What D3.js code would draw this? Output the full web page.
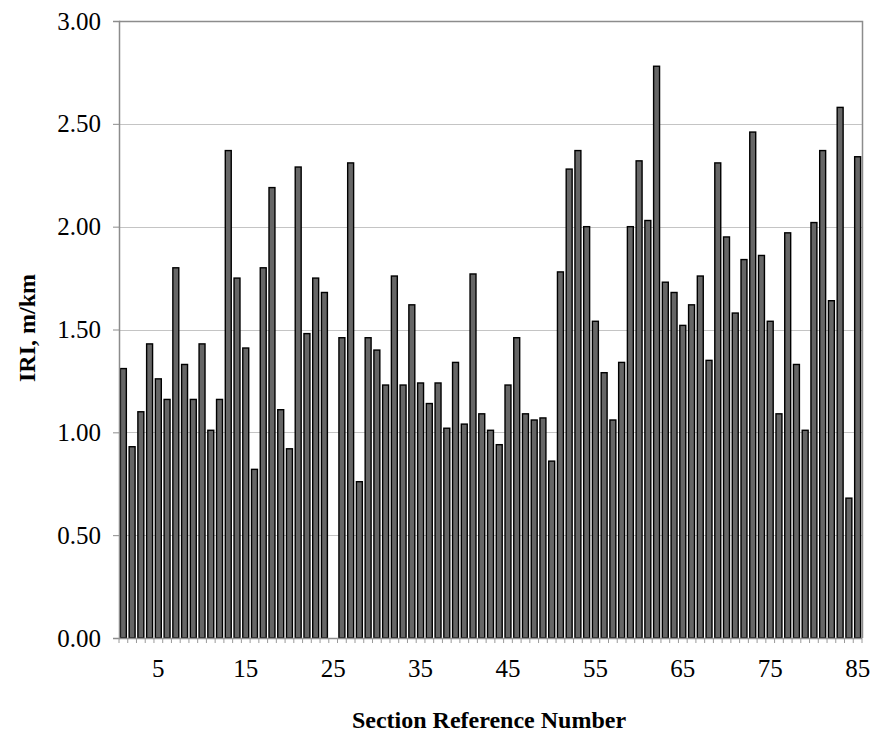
<!DOCTYPE html>
<html lang="en">
<head>
<meta charset="UTF-8">
<title>IRI by section</title>
<script src="https://cdn.jsdelivr.net/npm/d3@7/dist/d3.min.js"></script>
<style>
  body { margin: 0; background: #fff; }
  text { font-family: "Liberation Serif", "Times New Roman", serif; fill: #000; }
</style>
</head>
<body>
<div id="chart"></div>
<script>

// section numbers 1..85, section 25 has no value
var sections = d3.range(1, 86);
var iri = [
  1.31, 0.93, 1.10, 1.43, 1.26, 1.16, 1.80, 1.33, 1.16, 1.43,
  1.01, 1.16, 2.37, 1.75, 1.41, 0.82, 1.80, 2.19, 1.11, 0.92,
  2.29, 1.48, 1.75, 1.68, null, 1.46, 2.31, 0.76, 1.46, 1.40,
  1.23, 1.76, 1.23, 1.62, 1.24, 1.14, 1.24, 1.02, 1.34, 1.04,
  1.77, 1.09, 1.01, 0.94, 1.23, 1.46, 1.09, 1.06, 1.07, 0.86,
  1.78, 2.28, 2.37, 2.00, 1.54, 1.29, 1.06, 1.34, 2.00, 2.32,
  2.03, 2.78, 1.73, 1.68, 1.52, 1.62, 1.76, 1.35, 2.31, 1.95,
  1.58, 1.84, 2.46, 1.86, 1.54, 1.09, 1.97, 1.33, 1.01, 2.02,
  2.37, 1.64, 2.58, 0.68, 2.34
];
var xTickLabels = [5, 15, 25, 35, 45, 55, 65, 75, 85];
var yTicks = [0, 0.5, 1.0, 1.5, 2.0, 2.5, 3.0];

var w = 873, h = 734;
var plotL = 119, plotR = 862, plotT = 21, plotB = 638;

var svg = d3.select("#chart").append("svg")
    .attr("width", w)
    .attr("height", h);

var x = d3.scaleBand()
    .domain(sections)
    .range([plotL, plotR])
    .paddingInner(0.32)
    .paddingOuter(0.16);

var y = d3.scaleLinear()
    .domain([0, 3])
    .range([plotB, plotT]);

// gridlines
svg.append("g")
    .selectAll("line")
    .data(yTicks.filter(function(d) { return d > 0 && d < 3; }))
    .enter().append("line")
    .attr("x1", plotL).attr("x2", plotR)
    .attr("y1", function(d) { return Math.round(y(d)) + 0.5; })
    .attr("y2", function(d) { return Math.round(y(d)) + 0.5; })
    .attr("stroke", "#c4c4c4")
    .attr("stroke-width", 1);

// plot frame (top, right)
svg.append("path")
    .attr("d", "M" + plotL + "," + (plotT + 0.5) + "H" + (plotR + 0.5) + "V" + plotB)
    .attr("fill", "none")
    .attr("stroke", "#8c8c8c")
    .attr("stroke-width", 1.5);

// bars
var data = sections.map(function(s, i) { return { s: s, v: iri[i] }; })
    .filter(function(d) { return d.v != null; });

svg.append("g")
    .selectAll("rect")
    .data(data)
    .enter().append("rect")
    .attr("x", function(d) { return x(d.s); })
    .attr("y", function(d) { return y(d.v); })
    .attr("width", x.bandwidth())
    .attr("height", function(d) { return y(0) - y(d.v); })
    .attr("fill", "#666")
    .attr("stroke", "#000")
    .attr("stroke-width", 1.4);

// y axis
var yAxis = svg.append("g")
    .attr("transform", "translate(" + plotL + ",0)")
    .call(d3.axisLeft(y).tickValues(yTicks).tickFormat(d3.format(".2f")).tickSize(6).tickPadding(12));
yAxis.select(".domain").attr("stroke", "#8c8c8c").attr("stroke-width", 1.5);
yAxis.selectAll(".tick line").attr("stroke", "#8c8c8c");
yAxis.selectAll(".tick text")
    .attr("font-family", "Liberation Serif, serif")
    .attr("font-size", 25)
    .attr("fill", "#000");

// x axis: tick marks between sections, labels every 10
var bounds = d3.range(0, sections.length + 1).map(function(i) { return plotL + i * (plotR - plotL) / sections.length; });
svg.append("line")
    .attr("x1", plotL).attr("x2", plotR)
    .attr("y1", plotB + 0.5).attr("y2", plotB + 0.5)
    .attr("stroke", "#8c8c8c")
    .attr("stroke-width", 1.5);
svg.append("g")
    .selectAll("line")
    .data(bounds)
    .enter().append("line")
    .attr("x1", function(d) { return d; }).attr("x2", function(d) { return d; })
    .attr("y1", plotB).attr("y2", plotB + 5)
    .attr("stroke", "#9a9a9a")
    .attr("stroke-width", 1);

svg.append("g")
    .selectAll("text")
    .data(xTickLabels)
    .enter().append("text")
    .attr("x", function(d) { return x(d) + x.bandwidth() / 2; })
    .attr("y", 677)
    .attr("text-anchor", "middle")
    .attr("font-size", 25)
    .text(function(d) { return d; });

// axis titles
svg.append("text")
    .attr("x", 489)
    .attr("y", 728)
    .attr("text-anchor", "middle")
    .attr("font-size", 24)
    .attr("font-weight", "bold")
    .text("Section Reference Number");

svg.append("text")
    .attr("transform", "translate(35,328) rotate(-90)")
    .attr("text-anchor", "middle")
    .attr("font-size", 24)
    .attr("font-weight", "bold")
    .text("IRI, m/km");

</script>
</body>
</html>
